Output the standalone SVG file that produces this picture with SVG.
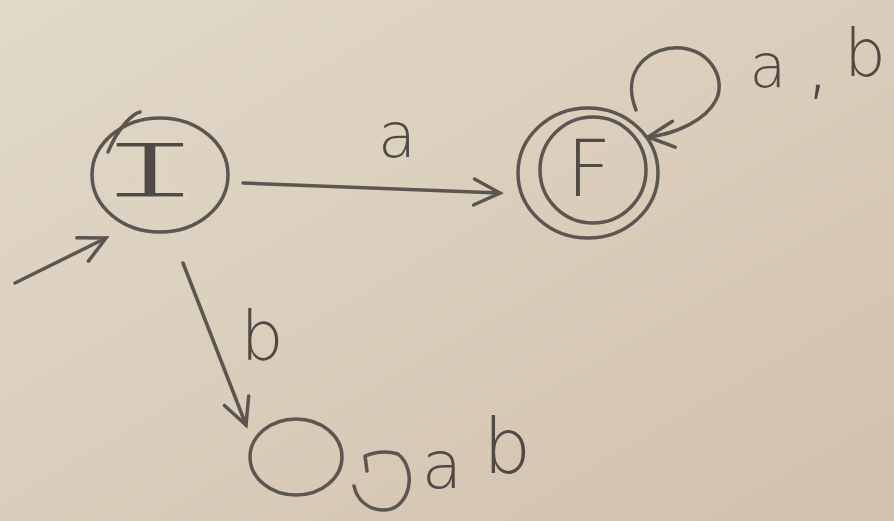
<svg xmlns="http://www.w3.org/2000/svg" width="894" height="521" viewBox="0 0 894 521">
<defs>
<linearGradient id="paper" x1="0" y1="0" x2="1" y2="1">
<stop offset="0" stop-color="#e2d9ca"/>
<stop offset="0.5" stop-color="#dacdbb"/>
<stop offset="1" stop-color="#d1c1ad"/>
</linearGradient>
<marker id="arr" markerUnits="userSpaceOnUse" markerWidth="34" markerHeight="34" viewBox="0 0 34 34" refX="30" refY="17" orient="auto">
<path d="M4,4 L30,17 L4,30" fill="none" stroke="#5b5651" stroke-width="3.5" stroke-linecap="round"/>
</marker>
<style>
.ln{fill:none;stroke:#5b5651;stroke-width:3.5;stroke-linecap:round;stroke-linejoin:round}
.lbl{font-family:"DejaVu Sans","Liberation Sans",sans-serif;font-weight:200;fill:#4f4a46}
</style>
</defs>
<rect width="894" height="521" fill="url(#paper)"/>
<g id="connectors">
<path id="e-start" class="ln" d="M15,283 L106,238" marker-end="url(#arr)"/>
<path id="e-I-F" class="ln" d="M243,183 L500,193" marker-end="url(#arr)"/>
<path id="e-F-F" class="ln" d="M636,110 C620,70 650,45 682,48 C712,52 726,80 716,100 C706,120 676,134 648,137" marker-end="url(#arr)"/>
<path id="e-I-D" class="ln" d="M183,263 L246,425" marker-end="url(#arr)"/>
<path id="e-D-D" class="ln" d="M367,471 L365,456 Q382,449 398,454 C418,470 410,510 384,510 C368,510 357,500 354,486"/>
</g>
<g id="labels">
<text class="lbl" x="397" y="157" font-size="62" text-anchor="middle">a</text>
<text class="lbl" x="768" y="87" font-size="60" text-anchor="middle">a</text>
<text class="lbl" x="818" y="90" font-size="80" text-anchor="middle">,</text>
<text class="lbl" x="865" y="76" font-size="66" text-anchor="middle">b</text>
<text class="lbl" x="262" y="360" font-size="68" text-anchor="middle">b</text>
<text class="lbl" x="442" y="488" font-size="66" text-anchor="middle">a</text>
<text class="lbl" x="507" y="473" font-size="76" text-anchor="middle">b</text>
</g>
<g id="node-I">
<text x="0" y="0" transform="translate(150,198) scale(2,0.95)" font-family="Liberation Mono,monospace" font-size="90" fill="#4f4a46" stroke="#dfd5c5" stroke-width="3" text-anchor="middle">I</text>
<ellipse class="ln" cx="160" cy="175" rx="68" ry="57"/>
<path class="ln" d="M108,152 C118,128 132,114 140,112"/>
</g>
<g id="node-F">
<ellipse class="ln" cx="588" cy="173" rx="70" ry="65"/>
<ellipse class="ln" cx="593" cy="170" rx="53" ry="53"/>
<text class="lbl" x="589" y="196" font-size="78" text-anchor="middle">F</text>
</g>
<g id="node-D">
<ellipse class="ln" cx="296" cy="457" rx="46" ry="38"/>
</g>
</svg>
